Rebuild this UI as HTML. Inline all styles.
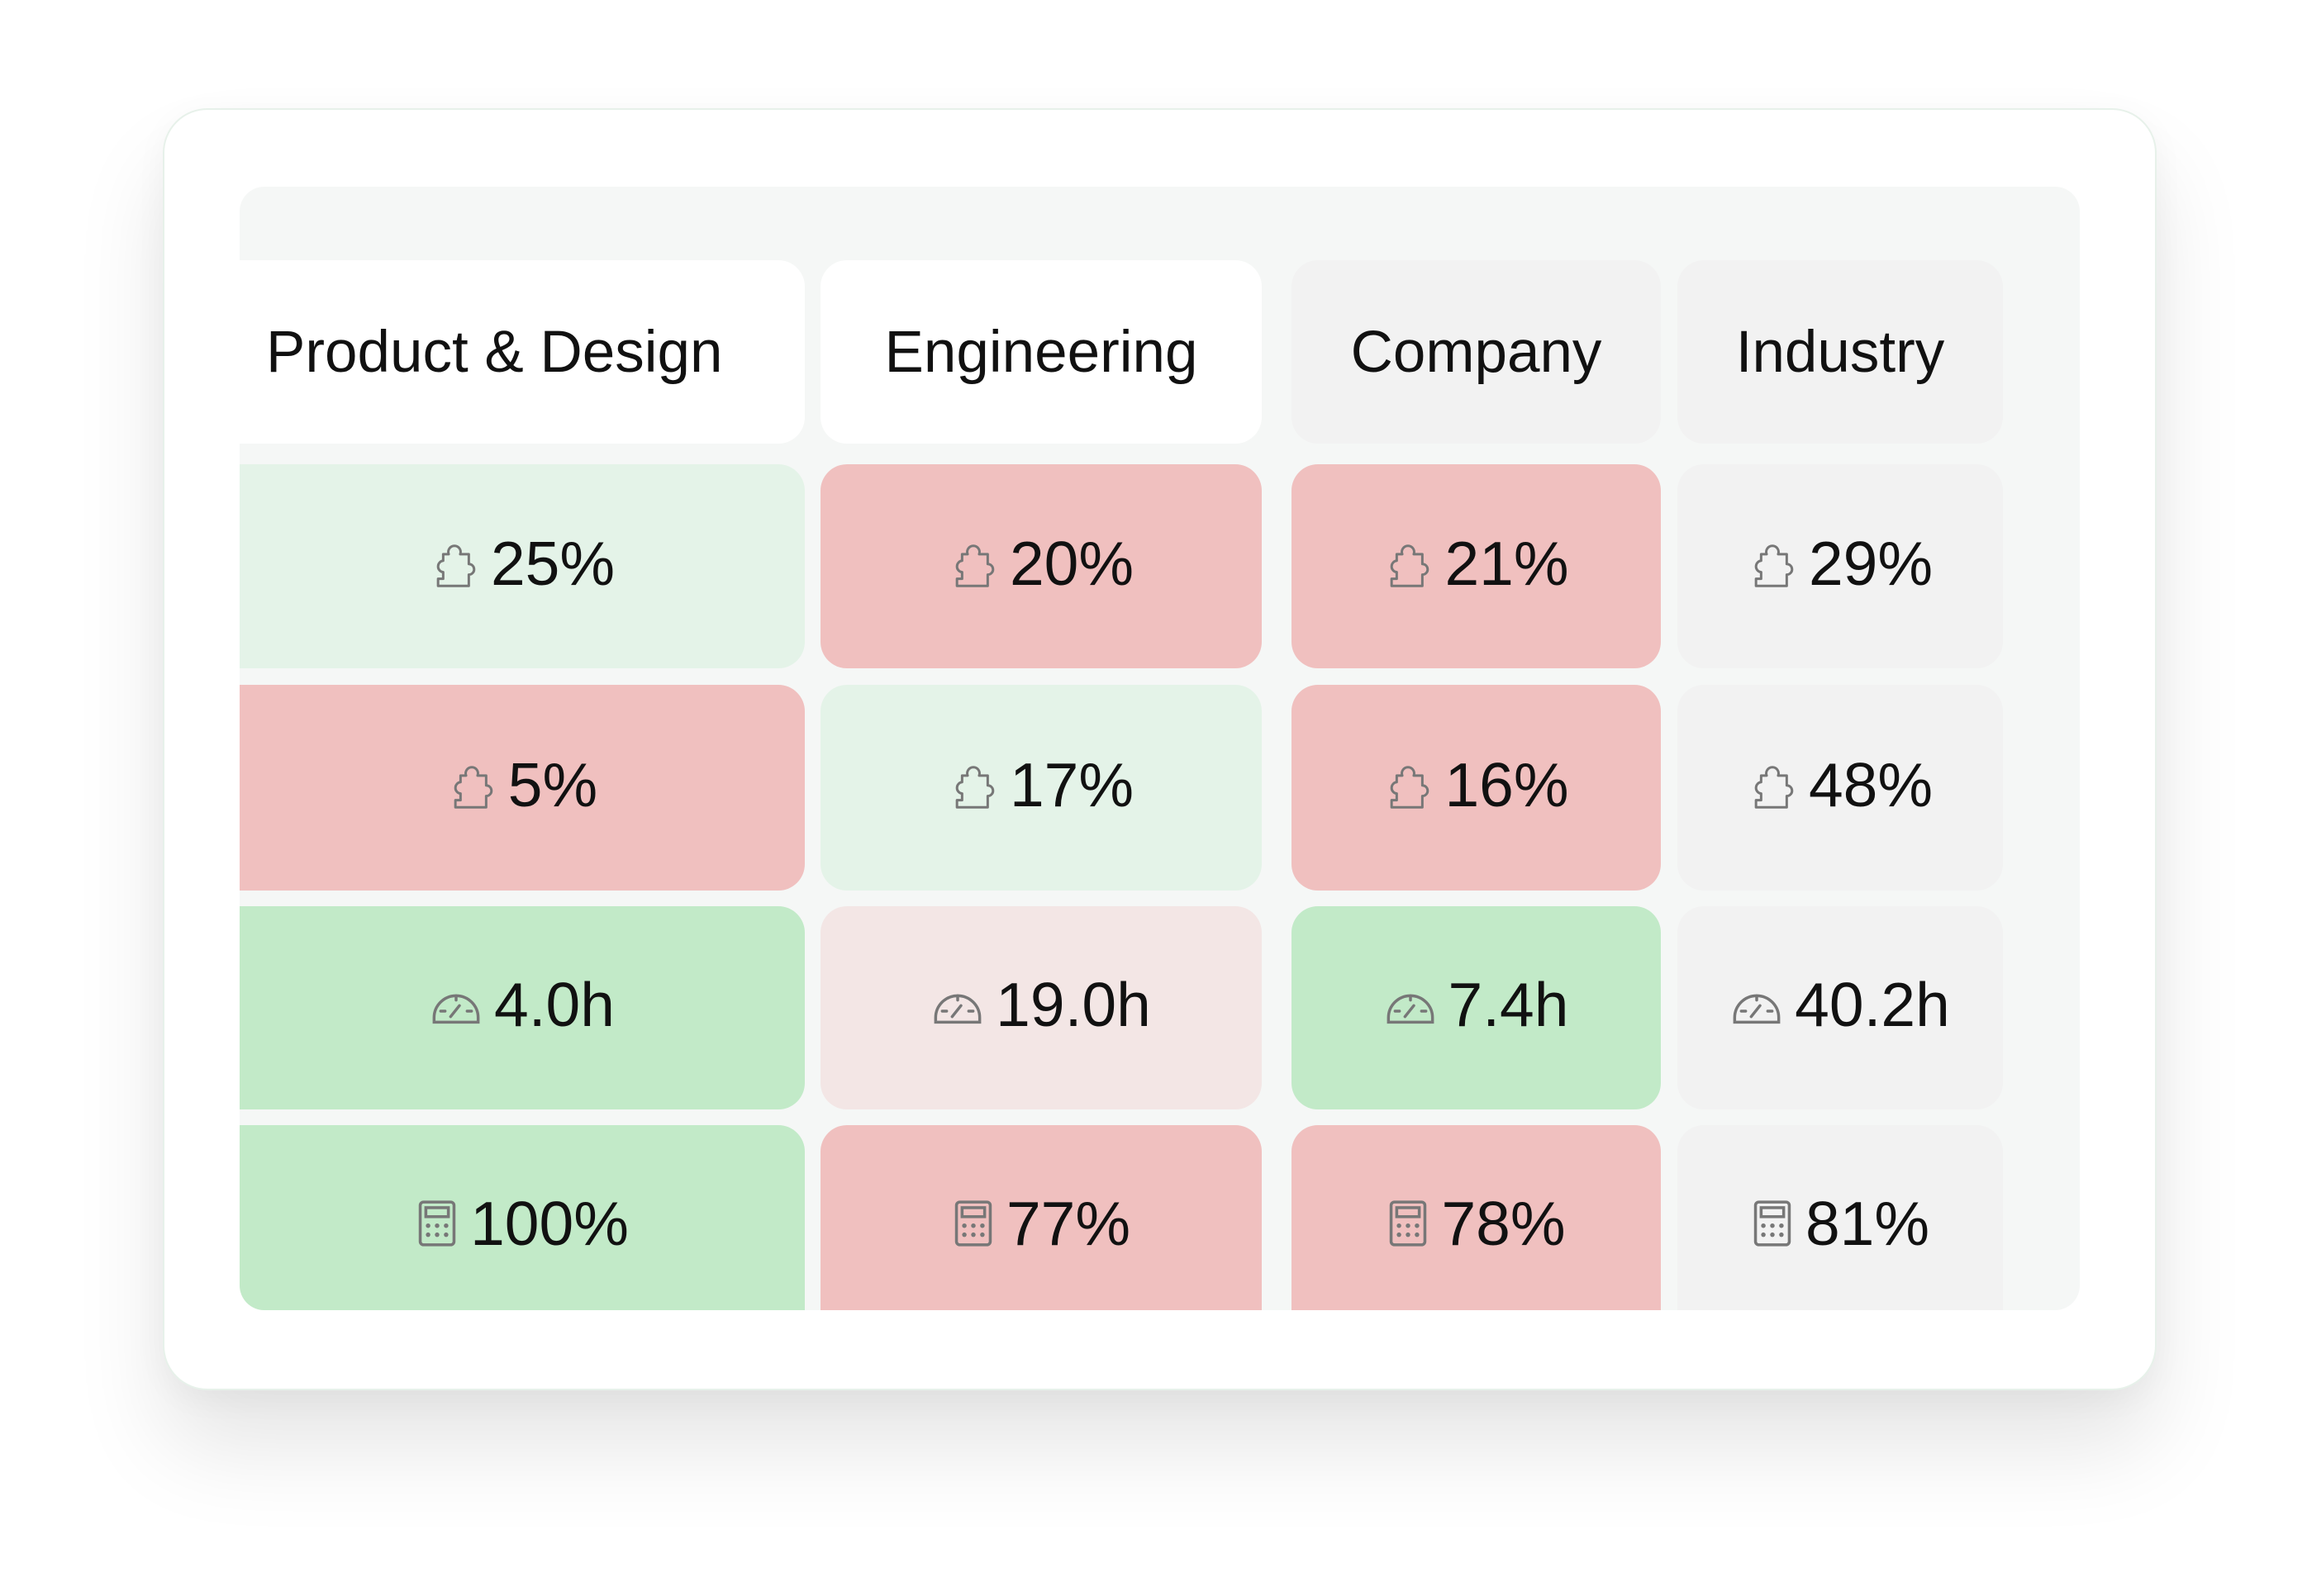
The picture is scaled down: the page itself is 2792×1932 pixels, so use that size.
<!DOCTYPE html>
<html><head><meta charset="utf-8">
<style>
html,body{margin:0;padding:0;width:2792px;height:1932px;background:#fff;overflow:hidden;font-family:"Liberation Sans",sans-serif;}
#card{position:absolute;left:197px;top:131px;width:2413px;height:1552px;background:#fff;border-radius:54px;border:2px solid #e7f1ea;box-sizing:border-box;box-shadow:0 70px 110px rgba(0,0,0,0.10),0 10px 40px rgba(0,0,0,0.04);}
#panel{position:absolute;left:290px;top:226px;width:2227px;height:1360px;background:#f5f7f6;border-radius:30px;overflow:hidden;}
.cell{position:absolute;border-radius:32px;display:flex;align-items:center;justify-content:center;color:#111;}
.hdr{font-size:71px;}
.val{font-size:75px;}
.cell svg{margin-right:14px;}
</style></head>
<body>
<div id="card"></div>
<div id="panel"></div>
<script>
const columns = ["Product & Design","Engineering","Company","Industry"];
const rowIcons = ["puzzle","puzzle","gauge","calc"];
const rowValues = [
  ["25%","20%","21%","29%"],
  ["5%","17%","16%","48%"],
  ["4.0h","19.0h","7.4h","40.2h"],
  ["100%","77%","78%","81%"]
];
const rowStatus = [
  ["lightgood","bad","bad","ref"],
  ["bad","lightgood","bad","ref"],
  ["good","lightbad","good","ref"],
  ["good","bad","bad","ref"]
];
const headerBg = ["#ffffff","#ffffff","#f2f2f2","#f2f2f2"];
const colors = {lightgood:"#e4f3e8",good:"#c2eac8",bad:"#f0c0bf",lightbad:"#f3e6e5",ref:"#f2f2f2"};

const colX = [-40,703,1273,1740], colW = [724,534,447,394];
const rowTops = [336,603,871,1136], rowHs = [247,249,246,260];
const panel = document.getElementById('panel');

function icon(kind){
  const s = {puzzle:`<svg width="60" height="62" viewBox="0 0 24 25" fill="none" stroke="#777" stroke-width="1.2" stroke-linejoin="round"><path d="M4 23.5h15v-5.5a2.6 2.6 0 1 0 0-5.2V8h-4.2a3 3 0 1 0-5.6 0H6.5v3.2a2.8 2.8 0 0 0-2.5 2.8a2.8 2.8 0 0 0 2.5 2.8v3.2H4z"/></svg>`,
   gauge:`<svg width="64" height="60" viewBox="0 0 24 22" fill="none" stroke="#777" stroke-width="1.3" stroke-linecap="round"><path d="M2 17a10 10 0 0 1 20 0v2H2z"/><path d="M12 7v2M5 14h2M17 14h2M9.5 16.5l4-5"/></svg>`,
   calc:`<svg width="52" height="60" viewBox="0 0 18 22" fill="none" stroke="#777" stroke-width="1.3"><rect x="1.5" y="1.5" width="15" height="19" rx="1.5"/><rect x="4" y="4" width="10" height="4"/><g fill="#777" stroke="none"><circle cx="5" cy="12" r="1"/><circle cx="9" cy="12" r="1"/><circle cx="13" cy="12" r="1"/><circle cx="5" cy="16" r="1"/><circle cx="9" cy="16" r="1"/><circle cx="13" cy="16" r="1"/></g></svg>`};
  return s[kind];
}

columns.forEach((c,j)=>{
  const d=document.createElement('div');
  d.className='cell hdr';
  
  
  d.style.cssText=`left:${colX[j]}px;top:89px;width:${colW[j]}px;height:222px;background:${headerBg[j]};`;
  if(j===0){d.style.justifyContent='flex-start';d.style.paddingLeft='72px';d.style.boxSizing='border-box';}
  d.textContent=c;
  panel.appendChild(d);
});
rowValues.forEach((row,i)=>{
  row.forEach((v,j)=>{
    const d=document.createElement('div');
    d.className='cell val';
    
    
    let h=rowHs[i]; if(i===3) h+=40;
    d.style.cssText=`left:${colX[j]}px;top:${rowTops[i]}px;width:${colW[j]}px;height:${h}px;background:${colors[rowStatus[i][j]]};`;
    if(i===3){d.style.alignItems='flex-start';d.style.paddingTop='76px';d.style.boxSizing='border-box';}
    else {d.style.paddingBottom='8px';d.style.boxSizing='border-box';}
    const off = j===0?40:0;
    d.innerHTML=`<span style="display:flex;align-items:center;margin-left:${off}px">${icon(rowIcons[i])}<span>${v}</span></span>`;
    panel.appendChild(d);
  });
});
</script>
</body></html>
